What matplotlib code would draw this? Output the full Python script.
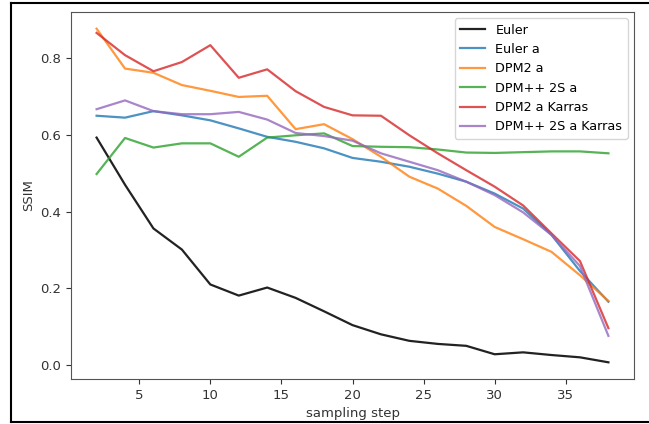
import matplotlib
matplotlib.use("Agg")

import matplotlib.pyplot as plt
from matplotlib.lines import Line2D

steps = list(range(2, 40, 2))

euler = [0.593, 0.47, 0.356, 0.301, 0.210, 0.181, 0.202, 0.175, 0.140, 0.104,
         0.080, 0.063, 0.055, 0.050, 0.028, 0.033, 0.026, 0.020, 0.007]
euler_a = [0.650, 0.645, 0.662, 0.651, 0.638, 0.617, 0.595, 0.582, 0.565, 0.540,
           0.530, 0.517, 0.499, 0.478, 0.447, 0.408, 0.339, 0.245, 0.165]
dpm2_a = [0.877, 0.773, 0.762, 0.730, 0.715, 0.699, 0.702, 0.615, 0.628, 0.589,
          0.543, 0.491, 0.460, 0.415, 0.360, 0.328, 0.295, 0.234, 0.167]
dpmpp_2s_a = [0.498, 0.592, 0.567, 0.578, 0.578, 0.543, 0.593, 0.599, 0.604, 0.571,
              0.569, 0.568, 0.562, 0.554, 0.553, 0.555, 0.557, 0.557, 0.552]
dpm2_a_karras = [0.866, 0.808, 0.766, 0.790, 0.834, 0.749, 0.771, 0.714, 0.673, 0.651,
                 0.650, 0.599, 0.552, 0.508, 0.465, 0.416, 0.343, 0.271, 0.096]
dpmpp_2s_a_karras = [0.667, 0.690, 0.662, 0.654, 0.654, 0.660, 0.640, 0.605, 0.597, 0.585,
                     0.552, 0.530, 0.508, 0.478, 0.443, 0.398, 0.339, 0.258, 0.076]

fig = plt.figure(figsize=(6.49, 4.24), dpi=100)
ax = fig.add_axes([71 / 649, 45 / 424, 563 / 649, 367 / 424])

ax.plot(steps, euler, color="#222222", label="Euler", lw=1.6)
ax.plot(steps, euler_a, color="#1f77b4", label="Euler a", lw=1.6, alpha=0.8)
ax.plot(steps, dpm2_a, color="#ff7f0e", label="DPM2 a", lw=1.6, alpha=0.8)
ax.plot(steps, dpmpp_2s_a, color="#2ca02c", label="DPM++ 2S a", lw=1.6, alpha=0.8)
ax.plot(steps, dpm2_a_karras, color="#d62728", label="DPM2 a Karras", lw=1.6, alpha=0.8)
ax.plot(steps, dpmpp_2s_a_karras, color="#9467bd", label="DPM++ 2S a Karras", lw=1.6, alpha=0.8)

ax.set_xlabel("sampling step", color="#333333", fontsize=9.5)
ax.set_ylabel("SSIM", color="#333333", fontsize=9.5)
ax.set_xticks([5, 10, 15, 20, 25, 30, 35])
ax.set_yticks([0.0, 0.2, 0.4, 0.6, 0.8])
ax.tick_params(colors="#333333", labelsize=9.5)
for s in ax.spines.values():
    s.set_color("#555555")
ax.legend(loc="upper right", fontsize=9.2)

# screenshot frame around the figure
for xs, ys in [([11, 11], [3, 422]), ([11, 649], [3, 3]), ([11, 649], [422, 422])]:
    fig.add_artist(Line2D([x / 649 for x in xs], [1 - y / 424 for y in ys],
                          color="black", lw=1.5, transform=fig.transFigure))

fig.savefig("out.png", dpi=100)
plt.close(fig)
